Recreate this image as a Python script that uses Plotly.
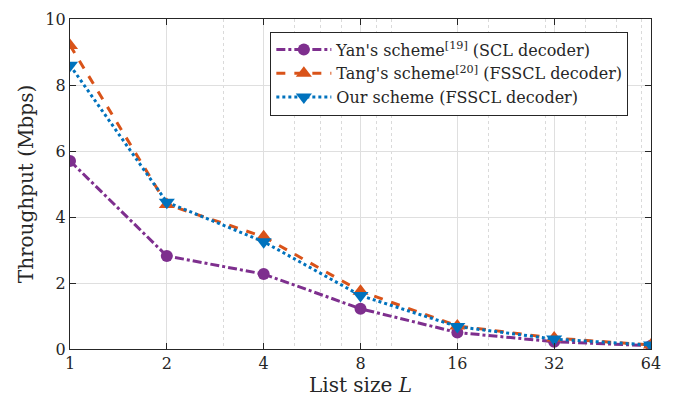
import plotly.graph_objects as go

L = [1, 2, 4, 8, 16, 32, 64]
yan = [5.7, 2.82, 2.27, 1.22, 0.5, 0.22, 0.1]
tang = [9.2, 4.38, 3.4, 1.75, 0.7, 0.33, 0.12]
ours = [8.6, 4.45, 3.25, 1.62, 0.68, 0.3, 0.12]

names = ["Yan's scheme<sup>[19]</sup> (SCL decoder)",
         "Tang's scheme<sup>[20]</sup> (FSSCL decoder)",
         "Our scheme (FSSCL decoder)"]

xticks = [1, 2, 4, 8, 16, 32, 64]
minor_x = [3, 5, 6, 7, 9, 10, 20, 30, 40, 50, 60]
yticks = [0, 2, 4, 6, 8, 10]

FONT = "DejaVu Serif"

fig = go.Figure()
fig.add_trace(go.Scatter(x=L, y=yan, name=names[0], mode="lines+markers",
                         line=dict(color="#7E2F8E", width=3, dash="dashdot"),
                         marker=dict(symbol="circle", size=12, color="#7E2F8E")))
fig.add_trace(go.Scatter(x=L, y=tang, name=names[1], mode="lines+markers",
                         line=dict(color="#D95319", width=3, dash="dash"),
                         marker=dict(symbol="triangle-up", size=14, color="#D95319")))
fig.add_trace(go.Scatter(x=L, y=ours, name=names[2], mode="lines+markers",
                         line=dict(color="#0072BD", width=3, dash="dot"),
                         marker=dict(symbol="triangle-down", size=14, color="#0072BD")))

fig.update_layout(
    width=680, height=399,
    margin=dict(l=70, r=29, t=19, b=50),
    paper_bgcolor="white", plot_bgcolor="white",
    font=dict(family=FONT, size=16, color="#262626"),
    legend=dict(x=0.961, y=0.962, xanchor="right", yanchor="top",
                bgcolor="white", bordercolor="#262626", borderwidth=1,
                font=dict(family=FONT, size=16, color="#262626"),
                itemwidth=55, tracegroupgap=0),
    xaxis=dict(type="log", range=[0, 1.80618], tickvals=xticks,
               ticktext=[str(v) for v in xticks], automargin=False,
               showgrid=True, gridcolor="#DFDFDF", gridwidth=1,
               minor=dict(tickvals=minor_x, showgrid=True, gridcolor="#DADADA",
                          griddash="dot", gridwidth=1, ticks=""),
               ticks="inside", ticklen=6, tickcolor="#262626",
               showline=True, linecolor="#262626", linewidth=1.2, mirror="ticks",
               zeroline=False,
               title=dict(text="List size <i>L</i>", standoff=0,
                          font=dict(family=FONT, size=20)),
               tickfont=dict(family=FONT, size=16)),
    yaxis=dict(range=[0, 10], tickvals=yticks, automargin=False,
               showgrid=True, gridcolor="#DFDFDF", gridwidth=1,
               ticks="inside", ticklen=6, tickcolor="#262626",
               showline=True, linecolor="#262626", linewidth=1.2, mirror="ticks",
               zeroline=False,
               title=dict(text="Throughput (Mbps)", standoff=6,
                          font=dict(family=FONT, size=20)),
               tickfont=dict(family=FONT, size=16)),
)

fig.write_html("out.html", config={"displayModeBar": False},
               post_script="document.body.style.margin='0';")
